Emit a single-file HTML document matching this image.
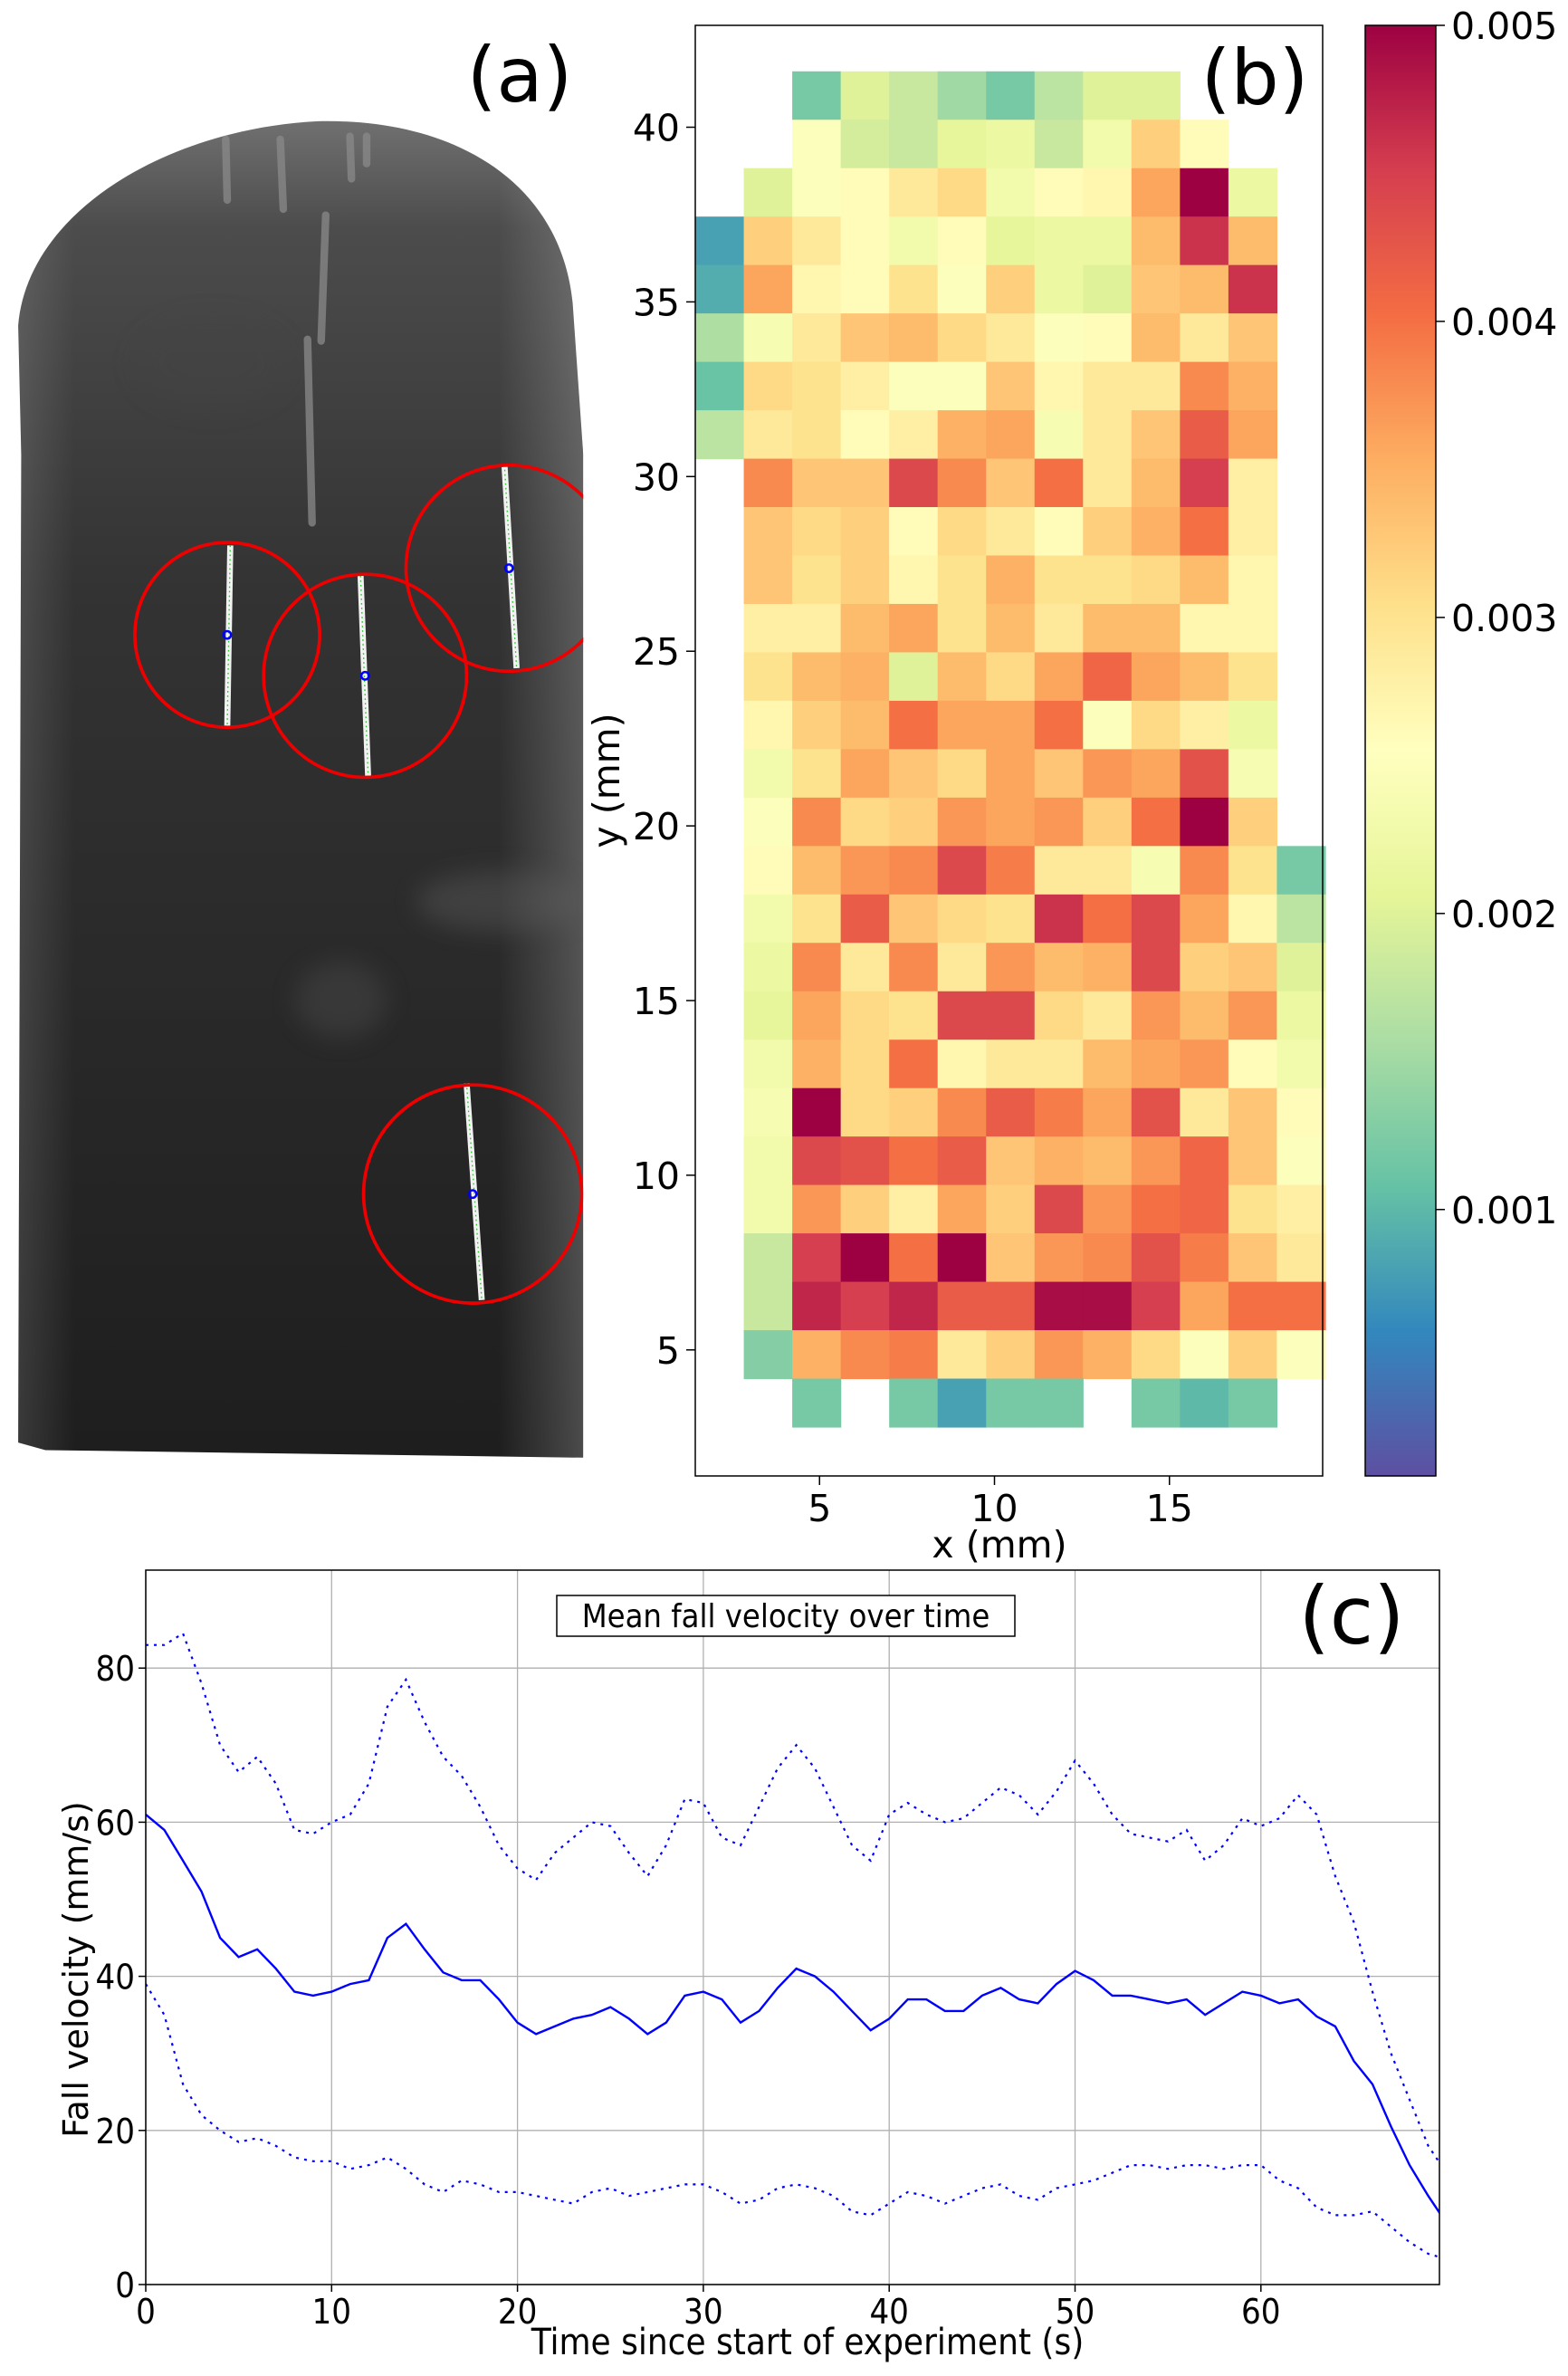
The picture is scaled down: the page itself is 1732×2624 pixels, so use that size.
<!DOCTYPE html>
<html><head><meta charset="utf-8"><style>
html,body{margin:0;padding:0;background:#fff;}
svg{display:block;}
text{font-family:"DejaVu Sans","Liberation Sans",sans-serif;}
.cond{font-family:"DejaVu Sans Condensed","DejaVu Sans","Liberation Sans Narrow",sans-serif;font-stretch:condensed;}
</style></head><body>
<svg id="fig" width="1732" height="2624" viewBox="0 0 1732 2624" xmlns="http://www.w3.org/2000/svg">
<defs>
<linearGradient id="photoGrad" x1="0" y1="0" x2="0" y2="1">
<stop offset="0" stop-color="#707070"/><stop offset="0.08" stop-color="#4c4c4c"/><stop offset="0.35" stop-color="#333"/><stop offset="1" stop-color="#1e1e1e"/>
</linearGradient>
<linearGradient id="photoSide" x1="0" y1="0" x2="1" y2="0">
<stop offset="0" stop-color="#fff" stop-opacity="0.12"/><stop offset="0.1" stop-color="#fff" stop-opacity="0"/><stop offset="0.85" stop-color="#fff" stop-opacity="0"/><stop offset="1" stop-color="#fff" stop-opacity="0.2"/>
</linearGradient>
<linearGradient id="cbarGrad" x1="0" y1="1" x2="0" y2="0">
<stop offset="0" stop-color="#5e4fa2"/><stop offset="0.1" stop-color="#3288bd"/><stop offset="0.2" stop-color="#66c2a5"/><stop offset="0.3" stop-color="#abdda4"/><stop offset="0.4" stop-color="#e6f598"/><stop offset="0.5" stop-color="#ffffbf"/><stop offset="0.6" stop-color="#fee08b"/><stop offset="0.7" stop-color="#fdae61"/><stop offset="0.8" stop-color="#f46d43"/><stop offset="0.9" stop-color="#d53e4f"/><stop offset="1" stop-color="#9e0142"/>
</linearGradient>
<filter id="blur8" x="-50%" y="-50%" width="200%" height="200%"><feGaussianBlur stdDeviation="8"/></filter>
<clipPath id="photoClip"><rect x="0" y="0" width="385" height="970"/></clipPath>
<clipPath id="cClip"><rect x="161" y="1734" width="1429" height="789"/></clipPath>
</defs>

<!-- Panel (a) -->
<g id="panelA" transform="scale(1.6734)">
<g clip-path="url(#photoClip)">
<path d="M 12 952 L 14 300 L 12 215 C 18 140 110 85 210 80 C 300 78 370 120 378 200 L 385 300 L 385 962 L 30 957 Z" fill="url(#photoGrad)"/>
<path d="M 12 952 L 14 300 L 12 215 C 18 140 110 85 210 80 C 300 78 370 120 378 200 L 385 300 L 385 962 L 30 957 Z" fill="url(#photoSide)"/>
<g filter="url(#blur8)" opacity="0.35">
<ellipse cx="330" cy="595" rx="55" ry="20" fill="#666"/>
<ellipse cx="225" cy="660" rx="30" ry="25" fill="#555"/>
<ellipse cx="140" cy="240" rx="50" ry="30" fill="#444"/>
</g>
<g stroke="#8a8a8a" stroke-width="5" stroke-linecap="round" opacity="0.75">
<line x1="149" y1="92" x2="150" y2="132"/><line x1="185" y1="92" x2="187" y2="138"/>
<line x1="231" y1="90" x2="232" y2="118"/><line x1="242" y1="90" x2="242" y2="108"/>
<line x1="215" y1="142" x2="212" y2="225"/><line x1="203" y1="224" x2="206" y2="345"/>
</g>
<g stroke="#f2f2f2" stroke-width="4">
<line x1="152" y1="360" x2="150" y2="480"/><line x1="238" y1="380" x2="243" y2="513"/>
<line x1="333" y1="307" x2="341" y2="441"/><line x1="308" y1="715" x2="318" y2="858"/>
</g>
<g stroke="#2c2" stroke-width="0.8" stroke-dasharray="1 2">
<line x1="152" y1="360" x2="150" y2="480"/><line x1="238" y1="380" x2="243" y2="513"/>
<line x1="333" y1="307" x2="341" y2="441"/><line x1="308" y1="715" x2="318" y2="858"/>
</g>
<g fill="none" stroke="#ee0000" stroke-width="2.2">
<circle cx="150" cy="419" r="61"/><circle cx="241" cy="446" r="67"/>
<circle cx="336" cy="375" r="68"/><circle cx="312" cy="788" r="72"/>
</g>
<g fill="none" stroke="#0000ff" stroke-width="1.5">
<circle cx="150" cy="419" r="2.5"/><circle cx="241" cy="446" r="2.5"/>
<circle cx="336" cy="375" r="2.5"/><circle cx="312" cy="788" r="2.5"/>
</g>
</g>
<text x="343" y="67" font-size="50" text-anchor="middle">(a)</text>
</g>

<!-- Panel (b) -->
<g id="panelB"></g>
<text x="1386" y="115" font-size="84" text-anchor="middle">(b)</text>
<text x="1104" y="1720" font-size="41" text-anchor="middle">x (mm)</text>
<text transform="translate(684,862) rotate(-90)" font-size="41" text-anchor="middle">y (mm)</text>
<rect x="1508" y="28" width="78" height="1602" fill="url(#cbarGrad)" stroke="#000" stroke-width="1.5"/>
<g id="cbarTicks"></g>

<!-- Panel (c) -->
<g id="panelC"></g>
<rect x="615" y="1762" width="506" height="45" fill="#fff" stroke="#000" stroke-width="1.5"/>
<text x="868" y="1797" font-size="36" text-anchor="middle" class="cond">Mean fall velocity over time</text>
<text x="1493" y="1815" font-size="88" text-anchor="middle">(c)</text>
<text x="892" y="2600" font-size="40" text-anchor="middle" class="cond">Time since start of experiment (s)</text>
<text transform="translate(97,2175) rotate(-90)" font-size="38" text-anchor="middle">Fall velocity (mm/s)</text>
</svg>
<script>
// ---------- Heatmap data (values in units of 0.001) ----------
const heatValues = [
[null,null,1.2,2.0,1.8,1.5,1.2,1.7,2.0,2.0,null,null,null],
[null,null,2.5,1.9,1.8,2.1,2.2,1.8,2.3,3.2,2.6,null,null],
[null,2.0,2.5,2.6,2.9,3.1,2.3,2.6,2.7,3.6,5.0,2.2,null],
[0.8,3.2,2.9,2.6,2.3,2.6,2.1,2.2,2.2,3.4,4.6,3.4,null],
[0.9,3.6,2.7,2.6,3.0,2.5,3.2,2.2,2.0,3.3,3.4,4.6,null],
[1.6,2.4,2.9,3.3,3.4,3.1,2.9,2.5,2.6,3.4,2.9,3.3,null],
[1.1,3.1,3.0,2.8,2.5,2.5,3.3,2.7,2.9,2.9,3.8,3.5,null],
[1.7,2.9,3.0,2.6,2.8,3.5,3.6,2.4,2.9,3.3,4.2,3.6,null],
[null,3.8,3.3,3.3,4.4,3.8,3.3,4.0,2.9,3.4,4.5,2.8,null],
[null,3.3,3.1,3.2,2.6,3.1,2.9,2.6,3.2,3.5,4.0,2.8,null],
[null,3.3,3.0,3.2,2.7,3.0,3.5,3.0,3.0,3.1,3.4,2.7,null],
[null,2.8,2.8,3.4,3.6,3.0,3.4,2.9,3.4,3.4,2.7,2.7,null],
[null,3.0,3.4,3.5,2.0,3.4,3.1,3.6,4.1,3.6,3.4,3.0,null],
[null,2.7,3.2,3.4,4.0,3.6,3.6,4.0,2.5,3.1,2.8,2.2,null],
[null,2.3,3.0,3.6,3.3,3.1,3.6,3.3,3.7,3.6,4.3,2.4,null],
[null,2.5,3.8,3.1,3.2,3.7,3.6,3.7,3.2,4.0,5.0,3.2,null],
[null,2.6,3.4,3.7,3.8,4.4,3.9,2.9,2.9,2.4,3.8,3.0,1.2],
[null,2.3,3.0,4.2,3.3,3.1,3.0,4.6,4.0,4.4,3.6,2.7,1.7],
[null,2.2,3.8,2.9,3.8,2.9,3.7,3.4,3.5,4.4,3.2,3.3,2.0],
[null,2.1,3.6,3.1,3.0,4.4,4.4,3.1,2.9,3.7,3.4,3.7,2.2],
[null,2.3,3.5,3.1,4.0,2.7,2.9,2.9,3.4,3.6,3.7,2.6,2.3],
[null,2.4,5.0,3.1,3.2,3.8,4.2,3.9,3.6,4.3,2.9,3.3,2.6],
[null,2.3,4.4,4.3,4.0,4.2,3.3,3.5,3.4,3.7,4.1,3.3,2.5],
[null,2.3,3.7,3.2,2.8,3.6,3.2,4.4,3.7,4.0,4.1,3.0,2.8],
[null,1.8,4.5,5.0,4.0,5.0,3.3,3.7,3.8,4.3,3.9,3.3,2.9],
[null,1.8,4.7,4.5,4.7,4.2,4.2,4.9,4.9,4.5,3.6,4.0,4.0],
[null,1.3,3.5,3.8,3.9,2.9,3.2,3.7,3.5,3.1,2.5,3.2,2.5],
[null,null,1.2,null,1.2,0.8,1.2,1.2,null,1.2,1.0,1.2,null]
];
const heatXTicks = [5,10,15];
const heatYTicks = [5,10,15,20,25,30,35,40];
const cbarTicks = [0.001,0.002,0.003,0.004,0.005];

// ---------- Velocity data ----------
const timeS = [0,1,2,3,4,5,6,7,8,9,10,11,12,13,14,15,16,17,18,19,20,21,22,23,24,25,26,27,28,29,30,31,32,33,34,35,36,37,38,39,40,41,42,43,44,45,46,47,48,49,50,51,52,53,54,55,56,57,58,59,60,61,62,63,64,65,66,67,68,69,69.7];
const meanV = [61,59,55,51,45,42.5,43.5,41,38,37.5,38,39,39.5,45,46.8,43.5,40.5,39.5,39.5,37,34,32.5,33.5,34.5,35,36,34.5,32.5,34,37.5,38,37,34,35.5,38.5,41,40,38,35.5,33,34.5,37,37,35.5,35.5,37.5,38.5,37,36.5,39,40.7,39.5,37.5,37.5,37,36.5,37,35,36.5,38,37.5,36.5,37,34.8,33.5,29,26,20.5,15.5,11.5,9];
const upperV = [83,83,84.5,78,70,66.5,68.5,65,59,58.5,60,61,65,75,78.5,73,68.5,66,62,57,54,52.5,56,58,60,59.5,56,53,57,63,62.5,58,57,62,67,70,67,62,57,55,61,62.5,61,60,60.5,62.5,64.5,63.5,61,64,68,65,61,58.5,58,57.5,59,55,57,60.5,59.5,60.5,63.5,61,53,47,38,30,24,18,15.5];
const lowerV = [39,35,26,22,20,18.5,19,18,16.5,16,16,15,15.5,16.5,15,13,12,13.5,13,12,12,11.5,11,10.5,12,12.5,11.5,12,12.5,13,13,12,10.5,11,12.5,13,12.5,11.5,9.5,9,10.5,12,11.5,10.5,11.5,12.5,13,11.5,11,12.5,13,13.5,14.5,15.5,15.5,15,15.5,15.5,15,15.5,15.5,13.5,12.5,10,9,9,9.5,7.5,5.5,4,3.5];
const cXTicks = [0,10,20,30,40,50,60];
const cYTicks = [0,20,40,60,80];

const NS = 'http://www.w3.org/2000/svg';
function mk(tag, attrs, parent){const e=document.createElementNS(NS,tag);for(const k in attrs)e.setAttribute(k,attrs[k]);parent.appendChild(e);return e;}

const cmapStops = ['#5e4fa2','#3288bd','#66c2a5','#abdda4','#e6f598','#ffffbf','#fee08b','#fdae61','#f46d43','#d53e4f','#9e0142'];
function hex(h){return [parseInt(h.slice(1,3),16),parseInt(h.slice(3,5),16),parseInt(h.slice(5,7),16)];}
function cmap(v){
  let t=(v-0.1)/4.9; t=Math.max(0,Math.min(1,t));
  const p=t*10, i=Math.min(9,Math.floor(p)), f=p-i;
  const a=hex(cmapStops[i]), b=hex(cmapStops[i+1]);
  return 'rgb('+a.map((c,k)=>Math.round(c+(b[k]-c)*f)).join(',')+')';
}

const bL=768,bR=1461,bT=28,bB=1630;
const bx = x => 712 + x*38.65;
const by = y => 140.5 + (40-y)*38.58;
const cellW=1.385, cellH=1.386, x0mm=1.45, yTopMm=41.6;
const pB=document.getElementById('panelB');
const bFrame=mk('rect',{x:bL,y:bT,width:bR-bL,height:bB-bT,fill:'#fff'},pB);


heatValues.forEach((row,r)=>{
  row.forEach((v,c)=>{
    if(v===null) return;
    const xa=bx(x0mm+c*cellW), xb=bx(x0mm+(c+1)*cellW);
    const ya=by(yTopMm-r*cellH), yb=by(yTopMm-(r+1)*cellH);
    const cell=mk('rect',{x:xa,y:ya,width:xb-xa+0.6,height:yb-ya+0.6,fill:cmap(v)},pB);
    
    
  });
});
mk('rect',{x:bL,y:bT,width:bR-bL,height:bB-bT,fill:'none',stroke:'#000','stroke-width':1.5},pB);
heatXTicks.forEach(t=>{
  const x=bx(t);
  mk('line',{x1:x,y1:bB,x2:x,y2:bB+10,stroke:'#000','stroke-width':1.5},pB);
  const tl=mk('text',{x:x,y:bB+50,'font-size':41,'text-anchor':'middle'},pB);
  tl.textContent=t;
  
  
});
heatYTicks.forEach(t=>{
  const y=by(t);
  mk('line',{x1:bL-10,y1:y,x2:bL,y2:y,stroke:'#000','stroke-width':1.5},pB);
  const tl=mk('text',{x:bL-17,y:y+15,'font-size':41,'text-anchor':'end'},pB);
  tl.textContent=t;
  
  
});
const cbG=document.getElementById('cbarTicks');
cbarTicks.forEach(t=>{
  const y=28+(5-t*1000)/4.9*1602;
  mk('line',{x1:1586,y1:y,x2:1596,y2:y,stroke:'#000','stroke-width':1.5},cbG);
  const tl=mk('text',{x:1603,y:y+15,'font-size':41},cbG);
  tl.textContent=t.toFixed(3);
  
  
});

const cL=161,cR=1590,cT=1734,cB=2523;
const cx = t => cL + t*20.53;
const cy = v => cB - v*8.51;
const pC=document.getElementById('panelC');
cXTicks.forEach(t=>{
  const g=mk('line',{x1:cx(t),y1:cT,x2:cx(t),y2:cB,stroke:'#b0b0b0','stroke-width':1.3},pC);
  
  
  mk('line',{x1:cx(t),y1:cB,x2:cx(t),y2:cB+8,stroke:'#000','stroke-width':1.5},pC);
  const tl=mk('text',{x:cx(t),y:cB+43,'font-size':38,'text-anchor':'middle','class':'cond'},pC);
  tl.textContent=t;
  
  
});
cYTicks.forEach(v=>{
  const g=mk('line',{x1:cL,y1:cy(v),x2:cR,y2:cy(v),stroke:'#b0b0b0','stroke-width':1.3},pC);
  
  
  mk('line',{x1:cL-8,y1:cy(v),x2:cL,y2:cy(v),stroke:'#000','stroke-width':1.5},pC);
  const tl=mk('text',{x:cL-12,y:cy(v)+14,'font-size':38,'text-anchor':'end','class':'cond'},pC);
  tl.textContent=v;
  
  
});
function pathOf(vals){return vals.map((v,i)=>(i?'L':'M')+cx(timeS[i]).toFixed(1)+' '+cy(v).toFixed(1)).join(' ');}
const lineG=mk('g',{'clip-path':'url(#cClip)'},pC);
const up=mk('path',{d:pathOf(upperV),fill:'none',stroke:'#0000ff','stroke-width':2.2,'stroke-dasharray':'3 6'},lineG);


const mn=mk('path',{d:pathOf(meanV),fill:'none',stroke:'#0000ff','stroke-width':2.4},lineG);


const lo=mk('path',{d:pathOf(lowerV),fill:'none',stroke:'#0000ff','stroke-width':2.2,'stroke-dasharray':'3 6'},lineG);


mk('rect',{x:cL,y:cT,width:cR-cL,height:cB-cT,fill:'none',stroke:'#000','stroke-width':1.5},pC);
</script>
</body></html>
